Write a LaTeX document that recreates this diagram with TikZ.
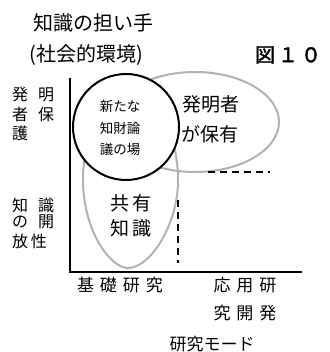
\documentclass[tikz,border=0pt]{standalone}
\usepackage{fontspec}
\setmainfont{Noto Sans CJK JP}
\newfontfamily\jpbold{Noto Sans CJK JP}[FakeBold=2]
\begin{document}
\begin{tikzpicture}[x=1pt,y=-1pt,
  lbl/.style={inner sep=0pt,outer sep=0pt,text=black},
  ttl/.style={lbl,font=\fontsize{20}{24}\selectfont},
  axl/.style={lbl,anchor=west,font=\fontsize{16}{18}\selectfont},
  small/.style={lbl,font=\fontsize{13.5}{16}\selectfont},
  mid/.style={lbl,font=\fontsize{19}{22}\selectfont},
  bot/.style={lbl,font=\fontsize{17}{20}\selectfont},
  axisline/.style={line width=2pt,black},
  grayloop/.style={line width=2pt,gray!60},
  dashline/.style={line width=2pt,black,dash pattern=on 7pt off 5pt}]
\useasboundingbox (0,0) rectangle (329,352);
% gray loops
\draw[grayloop] (195,122) ellipse [x radius=84, y radius=50];
\draw[grayloop] (130,88) .. controls (100,88) and (83,140) .. (83,180)
  .. controls (83,230) and (110,268) .. (128,268)
  .. controls (150,268) and (178,225) .. (178,180)
  .. controls (178,140) and (160,88) .. (130,88) -- cycle;
% circle
\node[circle,draw,line width=2pt,fill=white,minimum size=106pt,inner sep=0pt] (c) at (126,127) {};
% axes
\coordinate (o) at (70,272);
\coordinate (ytop) at (70,78);
\coordinate (xend) at (302,272);
\draw[axisline] (ytop) -- (o) -- (xend);
% dashed
\coordinate (h1) at (208,172); \coordinate (h2) at (270,172);
\coordinate (v1) at (178,200); \coordinate (v2) at (178,263);
\draw[dashline] (h1) -- (h2);
\draw[dashline] (v1) -- (v2);
% titles
\node[ttl] (t1) at (93,23) {知識の担い手};
\node[ttl] (t2) at (86,55) {(社会的環境)};
\node[lbl,font=\fontsize{20}{24}\selectfont\jpbold] (fig) at (288,55) {図\hspace{3pt}１\hspace{3pt}０};
% y labels
\node[axl] (a1) at (12,95) {発\hspace{10pt}明};
\node[axl] (a2) at (12,114) {者\hspace{10pt}保};
\node[axl] (a3) at (12,133) {護};
\node[axl] (b1) at (12,205) {知\hspace{10pt}識};
\node[axl] (b2) at (12,222) {の\hspace{10pt}開};
\node[axl] (b3) at (12,241) {放\hspace{3pt}性};
% circle text
\node[small] (n1) at (120,106) {新たな};
\node[small] (n2) at (120,128) {知財論};
\node[small] (n3) at (120,149) {議の場};
% right text
\node[mid] (r1) at (211,104) {発明者};
\node[mid] (r2) at (210,134) {が保有};
% shared
\node[mid] (s1) at (131,203) {共\hspace{3pt}有};
\node[mid] (s2) at (131,228) {知\hspace{3pt}識};
% bottom
\node[bot] (x1) at (120,285) {基\hspace{6pt}礎\hspace{6pt}研\hspace{6pt}究};
\node[bot] (x2) at (245,285) {応\hspace{6pt}用\hspace{6pt}研};
\node[bot] (x3) at (245,313) {究\hspace{6pt}開\hspace{6pt}発};
\node[bot] (x4) at (212,344) {研究モード};
\end{tikzpicture}
\end{document}
